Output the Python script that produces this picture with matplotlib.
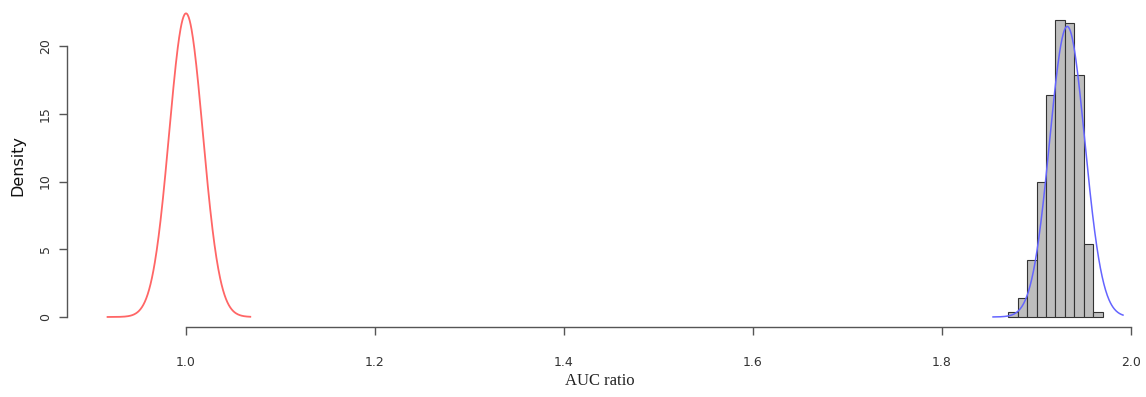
import numpy as np
import matplotlib.pyplot as plt

# histogram of the bootstrap AUC ratios (density scale)
bin_edges = [1.87, 1.88, 1.89, 1.90, 1.91, 1.92, 1.93, 1.94, 1.95, 1.96, 1.97]
bin_density = [0.4, 1.4, 4.2, 10.0, 16.4, 21.9, 21.7, 17.9, 5.4, 0.4]

# normal density curves: mean, sd, drawn range
null_mean, null_sd = 1.0, 0.0178
null_from, null_to = 0.917, 1.068
fit_mean, fit_sd = 1.9325, 0.0186
fit_from, fit_to = 1.854, 1.9915

x_ticks = [1.0, 1.2, 1.4, 1.6, 1.8, 2.0]
y_ticks = [0, 5, 10, 15, 20]


def dnorm(x, m, s):
    return np.exp(-0.5 * ((x - m) / s) ** 2) / (s * np.sqrt(2 * np.pi))


W, H = 1146, 397
fig = plt.figure(figsize=(W / 100, H / 100), dpi=100)
ax = fig.add_axes([67 / W, 70 / H, (W - 67) / W, 327 / H])

# histogram
ax.bar(bin_edges[:-1], bin_density, width=np.diff(bin_edges), align='edge',
       color='#bebebe', edgecolor='#333333', linewidth=0.8, zorder=2)

# curves
xr = np.linspace(null_from, null_to, 300)
ax.plot(xr, dnorm(xr, null_mean, null_sd), color='#ff6666', lw=1.3, zorder=3)
xb = np.linspace(fit_from, fit_to, 300)
ax.plot(xb, dnorm(xb, fit_mean, fit_sd), color='#6464ff', lw=1.1, zorder=3)

x0 = 1 + (67 - 186) / 945
ax.set_xlim(x0, x0 + (W - 67) / 945)
ax.set_ylim(-0.74, 23.4)

# R style axes
for s in ['top', 'right']:
    ax.spines[s].set_visible(False)
ax.spines['left'].set_bounds(0, 20)
ax.spines['bottom'].set_bounds(1.0, 2.0)
for s in ['left', 'bottom']:
    ax.spines[s].set_color('#555555')
    ax.spines[s].set_linewidth(1.0)

ax.set_xticks(x_ticks)
ax.set_xticklabels(['%.1f' % v for v in x_ticks])
ax.set_yticks(y_ticks)
ax.set_yticklabels([str(v) for v in y_ticks], rotation=90, va='center')
ax.tick_params(axis='x', length=6, width=1.0, color='#555555', pad=15,
               labelsize=9, labelcolor='#333333')
ax.tick_params(axis='y', length=6, width=1.0, color='#555555', pad=5,
               labelsize=9, labelcolor='#333333')

fig.text(600 / W, 1 - 381 / H, 'AUC ratio', family='Liberation Serif',
         fontsize=12, ha='center', va='center', color='#222222')
fig.text(18 / W, 1 - 165 / H, 'Density', rotation=90, ha='center',
         va='center', fontsize=11.5, color='#111111')

plt.savefig('out.png', dpi=100)
